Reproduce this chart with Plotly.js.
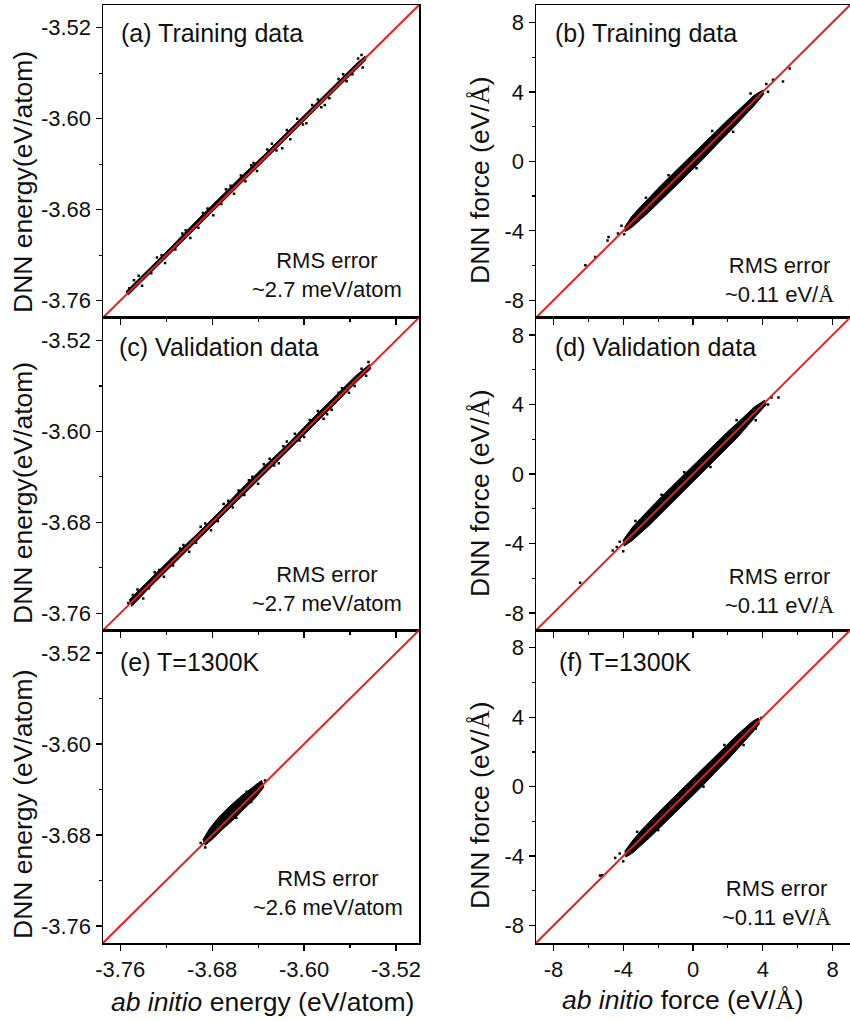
<!DOCTYPE html>
<html>
<head>
<meta charset="utf-8">
<script src="https://cdn.plot.ly/plotly-3.0.1.min.js"></script>
<style>html,body{margin:0;padding:0;background:#fff;}#chart{width:850px;height:1021px;}</style>
</head>
<body>
<div id="chart"></div>
<script>
// ---------------- DATA ----------------
// Axis ranges / ticks
const energyRange = [-3.775, -3.50];
const forceRange = [-9, 9];
const energyTicks = [-3.76, -3.68, -3.60, -3.52];
const energyTickText = ['-3.76', '-3.68', '-3.60', '-3.52'];
const energyMinorTicks = [-3.72, -3.64, -3.56];
const forceTicks = [-8, -4, 0, 4, 8];
const forceTickText = ['-8', '-4', '0', '4', '8'];
const forceMinorTicks = [-6, -2, 2, 6];

// y = x reference line end points
const energyDiag = [-3.775, -3.50];
const forceDiag = [-9, 9];

// (a) training energy: dense band outline + scattered points
const trainEnergyBandX = [-3.755,-3.735,-3.715,-3.695,-3.675,-3.655,-3.635,-3.615,-3.595,-3.575,-3.555,-3.547,
                          -3.546,-3.555,-3.575,-3.595,-3.615,-3.635,-3.655,-3.675,-3.695,-3.715,-3.735,-3.753];
const trainEnergyBandY = [-3.752,-3.732,-3.712,-3.691,-3.671,-3.651,-3.632,-3.612,-3.592,-3.572,-3.552,-3.545,
                          -3.548,-3.557,-3.577,-3.597,-3.617,-3.637,-3.657,-3.677,-3.697,-3.717,-3.737,-3.755];
const trainEnergyDotsX = [-3.748,-3.741,-3.728,-3.721,-3.706,-3.699,-3.688,-3.679,-3.668,-3.661,-3.646,-3.641,-3.628,-3.619,-3.606,-3.598,-3.588,-3.582,-3.570,-3.563,-3.553,-3.549,-3.612,-3.655,-3.585,-3.632,
                          -3.752,-3.744,-3.733,-3.724,-3.712,-3.703,-3.692,-3.684,-3.672,-3.664,-3.651,-3.644,-3.624,-3.615,-3.601,-3.593,-3.578,-3.566,-3.558,-3.550];
const trainEnergyDotsY = [-3.742,-3.747,-3.722,-3.727,-3.701,-3.705,-3.683,-3.685,-3.662,-3.666,-3.641,-3.646,-3.622,-3.626,-3.600,-3.604,-3.583,-3.588,-3.565,-3.567,-3.547,-3.555,-3.618,-3.650,-3.590,-3.627,
                          -3.749,-3.738,-3.736,-3.720,-3.715,-3.698,-3.696,-3.679,-3.675,-3.659,-3.655,-3.639,-3.628,-3.610,-3.605,-3.588,-3.582,-3.561,-3.561,-3.544];

// (b) training force
const trainForceBandX = [-3.9,-3.5,-3.0,-2.5,-2.0,-1.5,-1.0,-0.5,0,0.5,1.0,1.5,2.0,2.5,3.0,3.5,4.0,
                         4.05,3.5,3.0,2.5,2.0,1.5,1.0,0.5,0,-0.5,-1.0,-1.5,-2.0,-2.5,-3.0,-3.5,-3.9];
const trainForceBandY = [-3.75,-3.15,-2.6,-2.05,-1.55,-1.05,-0.55,-0.05,0.45,0.95,1.45,1.95,2.4,2.85,3.35,3.8,4.1,
                         3.85,3.2,2.65,2.1,1.6,1.1,0.55,0.05,-0.45,-0.95,-1.45,-1.95,-2.4,-2.9,-3.35,-3.8,-4.05];
const trainForceDotsX = [-4.84,-6.17,-4.9,-4.3,-4.1,-3.95,4.59,5.16,5.54,4.3,4.2,-2.7,-1.4,1.1,2.3,0.2,3.3,-5.6];
const trainForceDotsY = [-4.36,-5.98,-4.55,-4.15,-3.7,-4.2,4.69,4.59,5.35,4.0,4.45,-2.1,-0.8,1.75,1.7,-0.4,3.9,-5.5];

// (c) validation energy
const validEnergyBandX = [-3.752,-3.735,-3.715,-3.695,-3.675,-3.655,-3.635,-3.615,-3.595,-3.575,-3.555,-3.543,
                          -3.542,-3.555,-3.575,-3.595,-3.615,-3.635,-3.655,-3.675,-3.695,-3.715,-3.735,-3.750];
const validEnergyBandY = [-3.748,-3.731,-3.711,-3.692,-3.672,-3.651,-3.631,-3.612,-3.591,-3.571,-3.551,-3.541,
                          -3.545,-3.557,-3.578,-3.598,-3.618,-3.638,-3.658,-3.678,-3.698,-3.718,-3.738,-3.754];
const validEnergyDotsX = [-3.749,-3.740,-3.730,-3.722,-3.708,-3.700,-3.690,-3.681,-3.670,-3.662,-3.648,-3.640,-3.630,-3.622,-3.608,-3.600,-3.588,-3.580,-3.570,-3.561,-3.550,-3.546,-3.615,-3.657,-3.583,-3.635,
                          -3.753,-3.745,-3.735,-3.726,-3.714,-3.705,-3.694,-3.686,-3.675,-3.666,-3.652,-3.645,-3.626,-3.618,-3.604,-3.595,-3.576,-3.567,-3.556,-3.544];
const validEnergyDotsY = [-3.744,-3.747,-3.724,-3.728,-3.703,-3.706,-3.684,-3.687,-3.664,-3.667,-3.643,-3.646,-3.624,-3.628,-3.602,-3.605,-3.582,-3.585,-3.566,-3.566,-3.545,-3.551,-3.609,-3.652,-3.589,-3.629,
                          -3.751,-3.739,-3.738,-3.722,-3.718,-3.700,-3.698,-3.681,-3.679,-3.661,-3.656,-3.640,-3.630,-3.613,-3.608,-3.590,-3.581,-3.562,-3.560,-3.539];

// (d) validation force
const validForceBandX = [-4.0,-3.5,-3.0,-2.5,-2.0,-1.5,-1.0,-0.5,0,0.5,1.0,1.5,2.0,2.5,3.0,3.5,4.1,
                         4.2,3.5,3.0,2.5,2.0,1.5,1.0,0.5,0,-0.5,-1.0,-1.5,-2.0,-2.5,-3.0,-3.5,-3.95];
const validForceBandY = [-3.8,-3.1,-2.55,-2.0,-1.5,-1.0,-0.5,0.0,0.5,1.0,1.5,1.95,2.45,2.9,3.4,3.85,4.25,
                         4.0,3.2,2.6,2.05,1.55,1.05,0.5,0.0,-0.5,-1.0,-1.5,-2.0,-2.45,-2.95,-3.4,-3.85,-4.15];
const validForceDotsX = [-6.47,-4.37,-4.6,-4.2,4.5,4.9,4.3,-3.3,-1.8,2.5,1.0,-0.5,3.6,-4.0];
const validForceDotsY = [-6.26,-4.21,-4.4,-3.9,4.4,4.4,4.0,-2.7,-1.2,3.1,0.4,0.1,3.1,-4.45];

// (e) T = 1300 K energy
const hotEnergyBandX = [-3.688,-3.682,-3.674,-3.665,-3.655,-3.645,-3.637,
                        -3.635,-3.642,-3.652,-3.662,-3.672,-3.680,-3.686];
const hotEnergyBandY = [-3.684,-3.674,-3.664,-3.655,-3.646,-3.638,-3.632,
                        -3.638,-3.647,-3.657,-3.667,-3.676,-3.684,-3.689];
const hotEnergyDotsX = [-3.690,-3.686,-3.684,-3.634,-3.638,-3.641,-3.668,-3.659,-3.650,-3.676,-3.646];
const hotEnergyDotsY = [-3.687,-3.691,-3.680,-3.632,-3.640,-3.636,-3.660,-3.665,-3.642,-3.668,-3.651];

// (f) T = 1300 K force
const hotForceBandX = [-3.9,-3.5,-3.0,-2.5,-2.0,-1.5,-1.0,-0.5,0,0.5,1.0,1.5,2.0,2.5,3.0,3.4,3.75,
                       3.8,3.4,3.0,2.5,2.0,1.5,1.0,0.5,0,-0.5,-1.0,-1.5,-2.0,-2.5,-3.0,-3.5,-3.85];
const hotForceBandY = [-3.7,-3.15,-2.55,-2.0,-1.5,-1.0,-0.5,0.0,0.5,1.0,1.5,2.0,2.45,2.95,3.4,3.75,3.95,
                       3.6,3.1,2.65,2.1,1.55,1.05,0.5,0.0,-0.5,-1.0,-1.5,-2.0,-2.45,-2.95,-3.4,-3.85,-4.05];
const hotForceDotsX = [-5.2,-4.46,-4.2,-5.33,3.9,3.6,-3.2,1.8,-2.0,0.6,2.9,-4.0];
const hotForceDotsY = [-5.1,-4.1,-3.85,-5.12,3.95,3.35,-2.6,2.4,-2.5,0.0,2.4,-4.3];

// Text
const panelLabels = ['(a) Training data', '(b) Training data', '(c) Validation data', '(d) Validation data', '(e) T=1300K', '(f) T=1300K'];
const serifA = '<span style="font-family:\'Liberation Serif\'">Å</span>';
const rmsLabels = ['RMS error<br>~2.7 meV/atom', 'RMS error<br>~0.11 eV/' + serifA,
                   'RMS error<br>~2.7 meV/atom', 'RMS error<br>~0.11 eV/' + serifA,
                   'RMS error<br>~2.6 meV/atom', 'RMS error<br>~0.11 eV/' + serifA];
const yTitles = ['DNN energy(eV/atom)', 'DNN force (eV/' + serifA + ')',
                 'DNN energy(eV/atom)', 'DNN force (eV/' + serifA + ')',
                 'DNN energy (eV/atom)', 'DNN force (eV/' + serifA + ')'];
const xTitles = ['<i>ab initio</i> energy (eV/atom)', '<i>ab initio</i> force (eV/' + serifA + ')'];

// ---------------- LAYOUT ----------------
const W = 850, H = 1021;
const px = v => v / W;
const py = v => 1 - v / H;
const colDom = [[px(103), px(419)], [px(536), 1]];
const rowDom = [[py(317.7), py(5)], [py(630.3), py(317.7)], [py(943), py(630.3)]];
const FONT = 'Liberation Sans, Arial, sans-serif';
const RED = '#e2201c';

const bands = [
  [trainEnergyBandX, trainEnergyBandY, trainEnergyDotsX, trainEnergyDotsY, 'E'],
  [trainForceBandX, trainForceBandY, trainForceDotsX, trainForceDotsY, 'F'],
  [validEnergyBandX, validEnergyBandY, validEnergyDotsX, validEnergyDotsY, 'E'],
  [validForceBandX, validForceBandY, validForceDotsX, validForceDotsY, 'F'],
  [hotEnergyBandX, hotEnergyBandY, hotEnergyDotsX, hotEnergyDotsY, 'E'],
  [hotForceBandX, hotForceBandY, hotForceDotsX, hotForceDotsY, 'F']
];

const traces = [];
const layout = {
  width: W, height: H,
  margin: {l: 0, r: 0, t: 0, b: 0},
  paper_bgcolor: '#fff', plot_bgcolor: '#fff',
  showlegend: false,
  font: {family: FONT, color: '#111', size: 22},
  annotations: []
};

const labelPos = [[119, 33], [553, 33], [117, 347], [553, 347], [118, 662], [557, 662]];
const rmsPos = [[327, 275], [779, 280], [327, 589], [779, 591], [328, 893], [776, 903]];
const yTitlePos = [[23, 182], [480, 180], [23, 493], [480, 493], [23, 804], [480, 805]];

bands.forEach((b, i) => {
  const n = i + 1;
  const xs = n === 1 ? '' : String(n);
  const col = i % 2, row = Math.floor(i / 2);
  const isE = b[4] === 'E';
  const rng = isE ? energyRange : forceRange;
  const diag = isE ? energyDiag : forceDiag;
  const tv = isE ? energyTicks : forceTicks;
  const tt = isE ? energyTickText : forceTickText;
  const mv = isE ? energyMinorTicks : forceMinorTicks;
  const xa = 'x' + xs, ya = 'y' + xs;

  traces.push({type: 'scatter', mode: 'lines', x: b[0].concat([b[0][0]]), y: b[1].concat([b[1][0]]),
    fill: 'toself', fillcolor: '#000', line: {color: '#000', width: 1}, xaxis: xa, yaxis: ya, hoverinfo: 'skip'});
  traces.push({type: 'scatter', mode: 'markers', x: b[2], y: b[3],
    marker: {color: '#000', size: 2.5, symbol: 'square'}, xaxis: xa, yaxis: ya, hoverinfo: 'skip'});
  traces.push({type: 'scatter', mode: 'lines', x: diag, y: diag,
    line: {color: RED, width: 2}, xaxis: xa, yaxis: ya, hoverinfo: 'skip', cliponaxis: true});

  const common = {
    range: rng, tickmode: 'array', tickvals: tv, ticktext: tt,
    showgrid: false, zeroline: false, showline: true, linecolor: '#000', linewidth: 1.5,
    ticks: 'outside', ticklen: 6, tickwidth: 1.3, tickcolor: '#000',
    minor: {tickmode: 'array', tickvals: mv, ticks: 'outside', ticklen: 3, tickwidth: 1.2, tickcolor: '#000', showgrid: false},
    tickfont: {family: FONT, size: 22, color: '#111'},
    mirror: true, fixedrange: true
  };
  layout['xaxis' + xs] = Object.assign({}, common, {
    domain: colDom[col], anchor: ya, showticklabels: row === 2
  });
  layout['yaxis' + xs] = Object.assign({}, common, {
    domain: rowDom[row], anchor: xa, showticklabels: true
  });
  // inside ticks on the right side
  const on = 'yaxis' + (n + 6);
  layout[on] = {
    range: rng, tickmode: 'array', tickvals: tv, overlaying: ya, side: 'right', anchor: xa,
    showgrid: false, zeroline: false, showline: false, showticklabels: false,
    ticks: 'inside', ticklen: 6, tickwidth: 1.3, tickcolor: '#000',
    minor: {tickmode: 'array', tickvals: mv, ticks: 'inside', ticklen: 3, tickwidth: 1.2, tickcolor: '#000'},
    fixedrange: true
  };

  layout.annotations.push({xref: 'paper', yref: 'paper', x: px(labelPos[i][0]), y: py(labelPos[i][1]),
    xanchor: 'left', yanchor: 'middle', text: panelLabels[i], showarrow: false,
    font: {family: FONT, size: 25, color: '#111'}});
  layout.annotations.push({xref: 'paper', yref: 'paper', x: px(rmsPos[i][0]), y: py(rmsPos[i][1]),
    xanchor: 'center', yanchor: 'middle', align: 'center', text: rmsLabels[i], showarrow: false,
    font: {family: FONT, size: 22, color: '#111'}});
  layout.annotations.push({xref: 'paper', yref: 'paper', x: px(yTitlePos[i][0]), y: py(yTitlePos[i][1]),
    xanchor: 'center', yanchor: 'middle', textangle: -90, text: yTitles[i], showarrow: false,
    font: {family: FONT, size: 26.5, color: '#111'}});
});

layout.annotations.push({xref: 'paper', yref: 'paper', x: px(262), y: py(1002),
  xanchor: 'center', yanchor: 'middle', text: xTitles[0], showarrow: false,
  font: {family: FONT, size: 26.5, color: '#111'}});
layout.annotations.push({xref: 'paper', yref: 'paper', x: px(683), y: py(1000),
  xanchor: 'center', yanchor: 'middle', text: xTitles[1], showarrow: false,
  font: {family: FONT, size: 26.5, color: '#111'}});

Plotly.newPlot('chart', traces, layout, {displayModeBar: false, staticPlot: true});
</script>
</body>
</html>
